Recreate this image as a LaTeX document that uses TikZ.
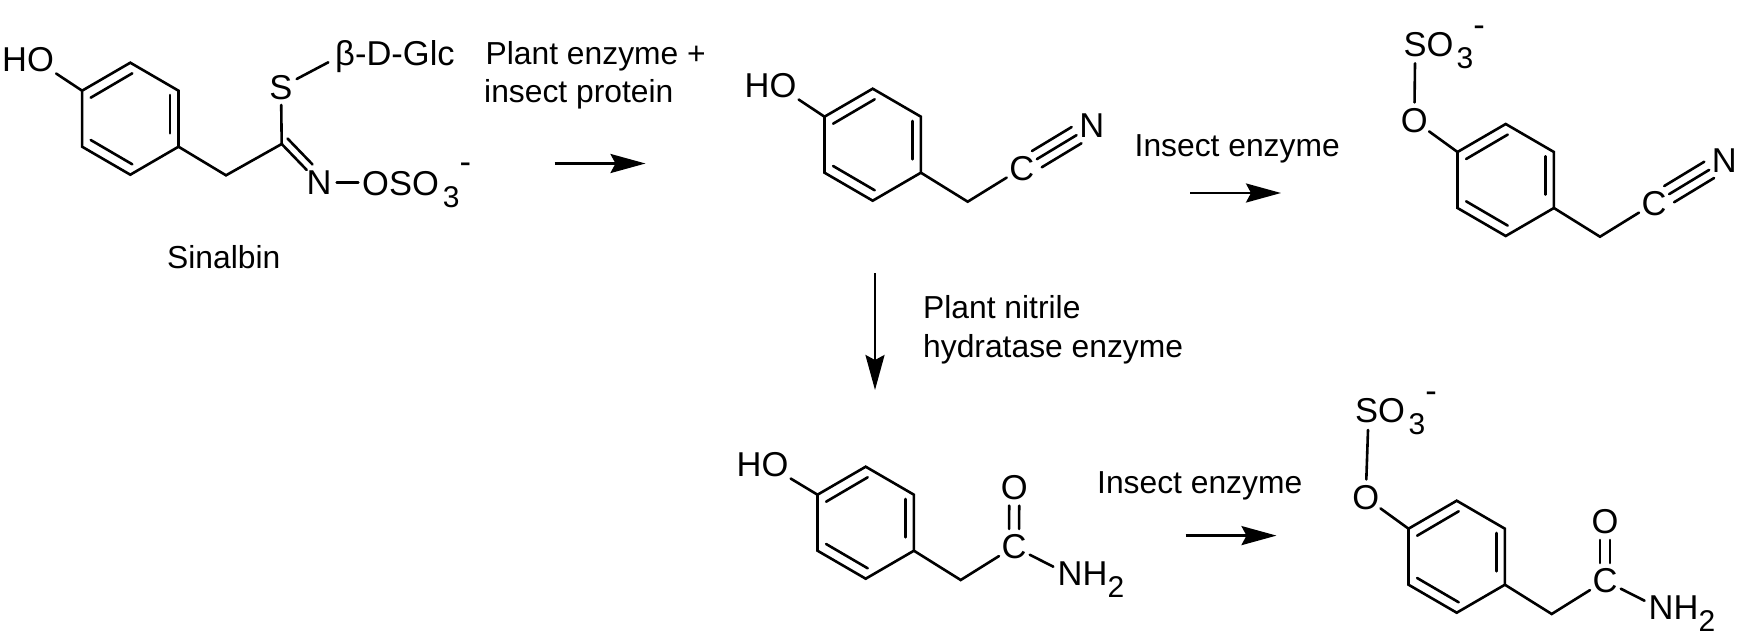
\documentclass[tikz,border=0pt]{standalone}
\usepackage{fontspec}
\setmainfont{Liberation Sans}
\usetikzlibrary{arrows.meta,calc}

% --- Fonts ---
\newcommand{\AtomFont}{\fontsize{34.5}{38}\selectfont}
\newcommand{\LabelFont}{\fontsize{31.8}{38}\selectfont}
\newcommand{\SubFont}{\fontsize{30}{34}\selectfont}

% SO3 minus tail: #1 gap before the 3, #2 rise of the minus sign
\newcommand{\SOtail}[2]{\kern#1pt\raisebox{-12pt}{\SubFont 3}\raisebox{#2pt}{-}}

% Ring macro: #1 name prefix, #2 centre x, #3 centre y
\newcommand{\BenzeneRing}[3]{
    \coordinate (#1c) at (#2,#3);
    \coordinate (#1t) at ($(#1c)+(0,-56)$);
    \coordinate (#1ur) at ($(#1c)+(48.2,-28)$);
    \coordinate (#1lr) at ($(#1c)+(48.2,28)$);
    \coordinate (#1b) at ($(#1c)+(0,56)$);
    \coordinate (#1ll) at ($(#1c)+(-48.2,28)$);
    \coordinate (#1ul) at ($(#1c)+(-48.2,-28)$);
    \draw[bond, line join=miter] (#1t) -- (#1ur) -- (#1lr) -- (#1b) -- (#1ll) -- (#1ul) -- cycle;
    % inner lines of the double bonds
    \draw[bond] ($(#1c)+(-39.6,-21)$) -- ($(#1c)+(2,-45.4)$);
    \draw[bond] ($(#1c)+(39.7,-23.7)$) -- ($(#1c)+(39.7,14.6)$);
    \draw[bond] ($(#1c)+(-39.6,21.3)$) -- ($(#1c)+(2,45.6)$);
}

% Two parallel lines between atoms: #1 from, #2 to, #3 half distance
\newcommand{\SideBonds}[3]{
    \path (#1) -- (#2) coordinate[pos=0] (bs) coordinate[pos=1] (be);
    \draw[bond] ($(bs)!#3!90:(be)$) -- ($(be)!#3!-90:(bs)$);
    \draw[bond] ($(bs)!#3!-90:(be)$) -- ($(be)!#3!90:(bs)$);
}

\begin{document}
\begin{tikzpicture}[x=1pt,y=-1pt]
    % --- Styles ---
    \tikzset{
        bond/.style={line width=2.6pt, line cap=round},
        atom/.style={circle, inner sep=0pt, minimum size=35pt, font=\AtomFont},
        group text/.style={anchor=base west, inner sep=0pt, font=\AtomFont},
        label text/.style={anchor=base west, inner sep=0pt, font=\LabelFont},
        react arrow/.style={line width=2.6pt, -{Stealth[length=35pt, width=19pt, inset=5pt]}}
    }

    \useasboundingbox (0,0) rectangle (1739,637);
    \fill[white] (0,0) rectangle (1739,637);

    % =========================================================
    % 1) SINALBIN
    % =========================================================
    \BenzeneRing{a}{130.3}{118.7}
    \coordinate (aCH) at (226,175.3);
    \coordinate (aC) at (281.7,144);
    \coordinate (aSe) at (328.3,62.3);
    \coordinate (aNe) at (358.3,182.7);
    \node[group text, inner sep=2pt] (aHO) at (0,71) {HO};
    \node[atom] (aS) at (281,87.3) {S};
    \node[atom] (aN) at (319,182.7) {N};
    \node[group text] (aGlc) at (335,65) {β-D-Glc};
    \node[group text] (aOSO) at (362,195) {OSO\SOtail{4}{21.5}};
    \node[label text] (aName) at (167,268) {Sinalbin};

    \draw[bond] (aul) -- (aHO.south east);
    \draw[bond] (alr) -- (aCH) -- (aC);
    \draw[bond] (aC) -- (aS);
    \draw[bond] (aS) -- (aSe);
    \draw[bond] (aC) -- (aN);
    \path (aC) -- (aN) coordinate[pos=1] (aNb);
    \draw[bond] ($(aC)!8pt!90:(aN)$) -- ($(aNb)!8pt!-90:(aC)$);
    \draw[bond] (aN) -- (aNe);

    % =========================================================
    % 2) NITRILE
    % =========================================================
    \BenzeneRing{b}{872.7}{144.7}
    \coordinate (bCH) at (967.7,201.7);
    \node[group text, inner sep=2pt] (bHO) at (742.5,97) {HO};
    \node[atom] (bC) at (1021.7,168.3) {C};
    \node[atom] (bN) at (1091.7,126) {N};

    \draw[bond] (bul) -- (bHO.south east);
    \draw[bond] (blr) -- (bCH) -- (bC);
    \draw[bond] (bC) -- (bN);
    \SideBonds{bC}{bN}{9.5pt}

    % =========================================================
    % 3) SULFATED NITRILE
    % =========================================================
    \BenzeneRing{c}{1505.7}{180}
    \coordinate (cCH) at (1600,236.7);
    \coordinate (cSe) at (1415,63.3);
    \node[atom] (cO) at (1414.3,120.7) {O};
    \node[group text] (cSO) at (1403.5,56.7) {SO\SOtail{3}{19.9}};
    \node[atom] (cC) at (1654,203.3) {C};
    \node[atom] (cN) at (1724.3,160.7) {N};

    \draw[bond] (cul) -- (cO);
    \draw[bond] (cO) -- (cSe);
    \draw[bond] (clr) -- (cCH) -- (cC);
    \draw[bond] (cC) -- (cN);
    \SideBonds{cC}{cN}{9.5pt}

    % =========================================================
    % 4) AMIDE
    % =========================================================
    \BenzeneRing{d}{865.7}{522.7}
    \coordinate (dCH) at (960.7,580);
    \coordinate (dNe) at (1053.3,566.7);
    \node[group text, inner sep=2pt] (dHO) at (734.5,476) {HO};
    \node[atom] (dC) at (1014,546.7) {C};
    \node[atom] (dO) at (1014.3,487.3) {O};
    \node[group text] (dNH) at (1057.5,585) {NH\raisebox{-12pt}{\SubFont 2}};

    \draw[bond] (dul) -- (dHO.south east);
    \draw[bond] (dlr) -- (dCH) -- (dC);
    \SideBonds{dC}{dO}{5pt}
    \draw[bond] (dC) -- (dNe);

    % =========================================================
    % 5) SULFATED AMIDE
    % =========================================================
    \BenzeneRing{e}{1456.7}{556.7}
    \coordinate (eCH) at (1551.7,614);
    \coordinate (eSe) at (1368,430);
    \coordinate (eNe) at (1644.5,600.7);
    \node[atom] (eO) at (1365.7,497.7) {O};
    \node[group text] (eSO) at (1355,422.7) {SO\SOtail{3.5}{19.9}};
    \node[atom] (eC) at (1605,580.7) {C};
    \node[atom] (eOd) at (1605,521.7) {O};
    \node[group text] (eNH) at (1648.5,619.3) {NH\raisebox{-12pt}{\SubFont 2}};

    \draw[bond] (eul) -- (eO);
    \draw[bond] (eO) -- (eSe);
    \draw[bond] (elr) -- (eCH) -- (eC);
    \SideBonds{eC}{eOd}{5pt}
    \draw[bond] (eC) -- (eNe);

    % =========================================================
    % 6) REACTION LABELS AND ARROWS
    % =========================================================
    \node[label text] (stepA) at (485.5,64) {Plant enzyme +};
    \node[label text] (stepAb) at (484,102) {insect protein};
    \node[label text] (stepB) at (1134.5,156) {Insect enzyme};
    \node[label text] (stepC) at (923,318) {Plant nitrile};
    \node[label text] (stepCb) at (923,357) {hydratase enzyme};
    \node[label text] (stepD) at (1097,493.5) {Insect enzyme};

    \coordinate (arrAs) at (554.5,163.5);
    \coordinate (arrAe) at (645.5,163.5);
    \coordinate (arrBs) at (1190,193);
    \coordinate (arrBe) at (1281,193);
    \coordinate (arrCs) at (875,273);
    \coordinate (arrCe) at (875,390);
    \coordinate (arrDs) at (1185.5,535.6);
    \coordinate (arrDe) at (1276.5,535.6);

    \draw[react arrow] (arrAs) -- (arrAe);
    \draw[react arrow] (arrBs) -- (arrBe);
    \draw[react arrow] (arrCs) -- (arrCe);
    \draw[react arrow] (arrDs) -- (arrDe);
\end{tikzpicture}
\end{document}
